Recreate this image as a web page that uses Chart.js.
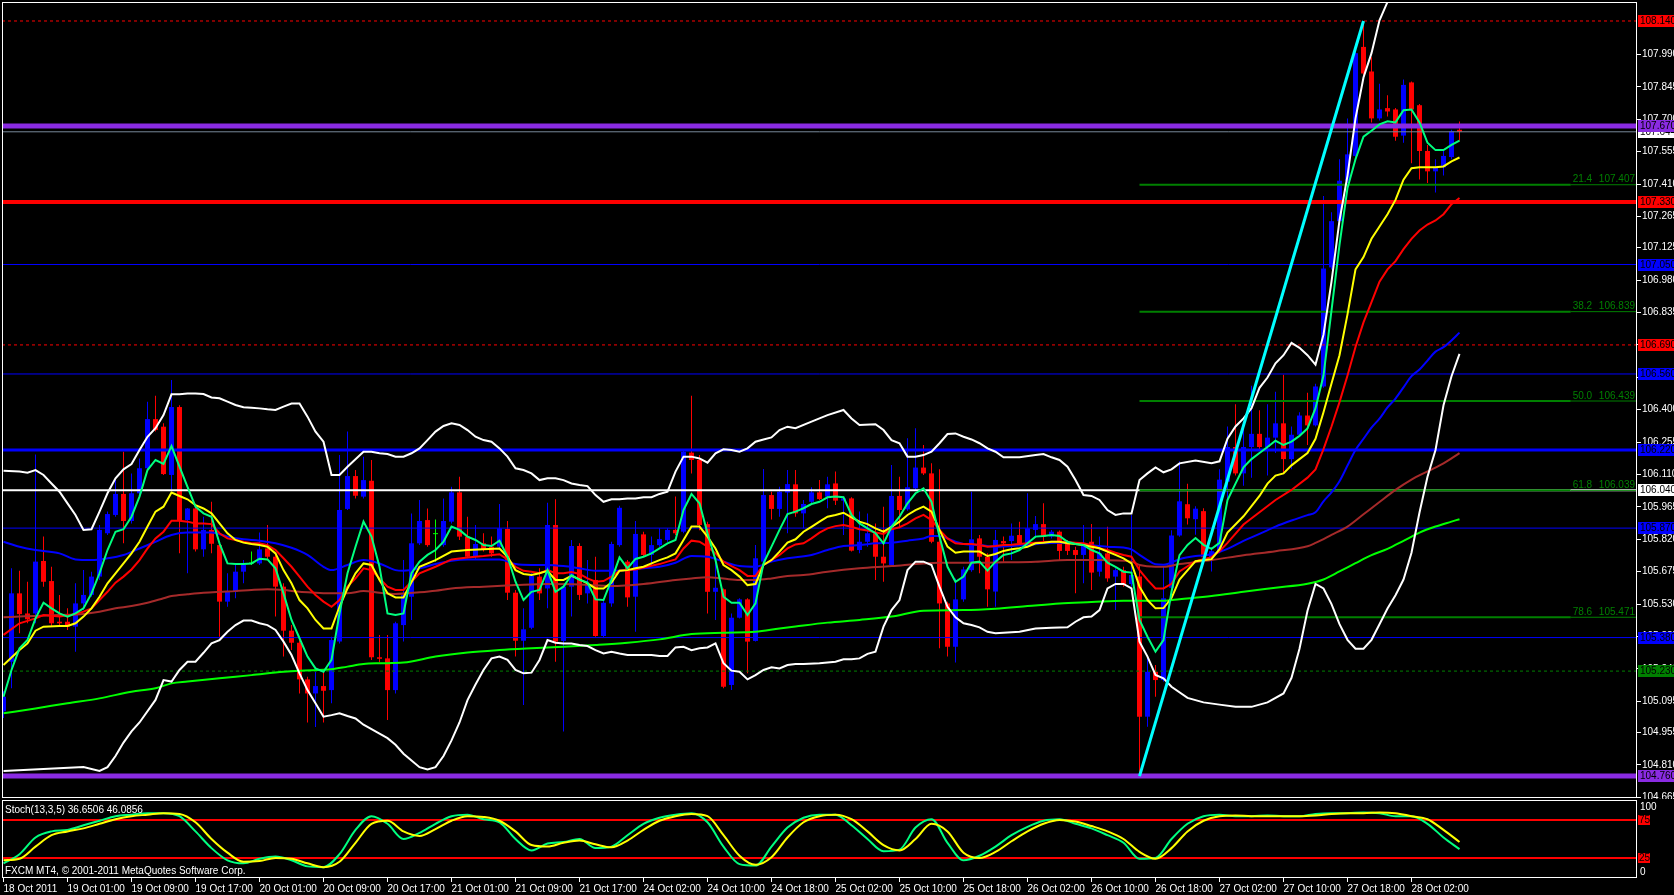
<!DOCTYPE html>
<html><head><meta charset="utf-8">
<script src="https://cdn.jsdelivr.net/npm/chart.js@4.4.0/dist/chart.umd.min.js"></script>
<style>
html,body{margin:0;padding:0;background:#000;overflow:hidden;}
#wrap{position:relative;width:1674px;height:895px;background:#000;}
#c1{position:absolute;left:0;top:0;}
#c2{position:absolute;left:0;top:799px;}
</style></head><body>
<div id="wrap">
<canvas id="c1" width="1674" height="799"></canvas>
<canvas id="c2" width="1674" height="96"></canvas>
</div>
<script>
// ---------------- DATA ----------------
const xTickLabels = ['18 Oct 2011','19 Oct 01:00','19 Oct 09:00','19 Oct 17:00','20 Oct 01:00','20 Oct 09:00','20 Oct 17:00','21 Oct 01:00','21 Oct 09:00','21 Oct 17:00','24 Oct 02:00','24 Oct 10:00','24 Oct 18:00','25 Oct 02:00','25 Oct 10:00','25 Oct 18:00','26 Oct 02:00','26 Oct 10:00','26 Oct 18:00','27 Oct 02:00','27 Oct 10:00','27 Oct 18:00','28 Oct 02:00'];
const xTickBars = [0,8,16,24,32,40,48,56,64,72,80,88,96,104,112,120,128,136,144,152,160,168,176];
const priceTicks = [107.990,107.845,107.700,107.555,107.410,107.265,107.125,106.980,106.835,106.690,106.545,106.400,106.255,106.110,105.965,105.820,105.675,105.530,105.385,105.240,105.095,104.955,104.810,104.665];

const open = [
105.05,105.272,105.578,105.488,105.488,105.723,105.633,105.451,105.451,105.429,
105.533,105.571,105.653,105.847,105.929,106.023,105.902,106.026,106.138,106.358,
106.324,106.108,106.412,105.906,105.958,105.775,105.862,105.794,105.541,105.585,
105.675,105.712,105.712,105.779,105.742,105.608,105.411,105.357,105.193,105.130,
105.163,105.145,105.362,105.956,106.103,106.011,106.082,105.292,105.287,105.145,
105.436,105.563,105.802,105.906,105.843,105.794,105.899,106.030,105.832,105.742,
105.802,105.787,105.787,105.866,105.581,105.366,105.424,105.653,105.600,105.884,
105.365,105.608,105.790,105.578,105.638,105.387,105.533,105.794,105.720,105.563,
105.842,105.750,105.794,105.817,105.862,105.854,106.208,106.175,105.888,105.585,
105.596,105.168,105.469,105.551,105.365,105.720,106.018,105.956,106.029,106.066,
105.936,105.988,106.030,106.011,106.070,105.993,106.003,105.772,105.809,105.847,
105.742,105.705,106.014,105.954,106.048,106.141,106.115,105.809,105.533,105.339,
105.551,105.682,105.824,105.742,105.586,105.812,105.812,105.839,105.802,105.862,
105.888,105.832,105.854,105.802,105.772,105.750,105.809,105.675,105.757,105.653,
105.682,105.620,105.653,105.026,105.227,105.190,105.603,105.837,105.977,105.910,
105.946,105.740,105.767,106.078,106.233,106.115,106.233,106.292,106.233,106.275,
106.339,106.179,106.288,106.374,106.330,106.504,107.037,107.244,107.425,107.536,
108.024,107.914,107.704,107.750,107.744,107.627,107.865,107.763,107.558,107.467,
107.485,107.531,107.653];
const high = [
105.14,105.690,105.679,105.630,106.200,105.832,105.697,105.571,105.511,105.623,
105.682,105.675,105.884,105.944,106.085,106.212,106.115,106.182,106.436,106.463,
106.339,106.533,106.420,105.960,105.973,105.921,105.988,105.800,105.668,105.705,
105.727,105.765,105.850,105.884,105.757,105.623,105.436,105.369,105.205,105.227,
105.227,105.384,106.197,106.302,106.130,106.190,106.175,105.392,105.392,105.451,
105.727,105.936,105.996,105.958,105.909,106.003,106.055,106.100,105.921,105.884,
105.847,105.832,105.978,105.902,105.593,105.511,105.668,105.690,105.984,105.999,
105.615,105.817,105.802,105.727,105.742,105.548,105.809,105.970,105.727,105.902,
105.854,105.832,105.869,105.869,106.011,106.220,106.463,106.197,105.899,105.742,
105.600,105.488,105.556,105.556,105.794,106.135,106.033,106.055,106.130,106.130,
105.996,106.053,106.085,106.100,106.123,106.011,106.008,105.944,105.936,105.891,
105.966,106.153,106.100,106.272,106.317,106.242,106.160,106.133,105.541,105.645,
105.697,106.033,105.839,105.757,105.862,105.832,105.891,105.899,106.026,105.924,
105.981,105.862,105.859,105.817,105.787,105.884,105.888,105.832,105.876,105.690,
105.697,105.929,105.705,105.295,105.257,105.697,105.860,106.169,106.069,105.968,
105.959,105.786,106.133,106.325,106.425,106.325,106.507,106.398,106.425,106.480,
106.557,106.325,106.389,106.476,106.516,107.357,107.284,107.521,107.704,108.015,
108.140,107.978,107.859,107.808,107.750,107.878,107.869,107.768,107.585,107.521,
107.558,107.653,107.690];
const low = [
105.02,105.153,105.399,105.444,105.444,105.608,105.429,105.436,105.414,105.317,
105.503,105.563,105.638,105.839,105.921,105.802,105.891,106.018,106.130,106.302,
106.108,106.041,105.757,105.668,105.765,105.742,105.757,105.384,105.518,105.556,
105.623,105.705,105.705,105.727,105.474,105.295,105.324,105.130,105.000,104.980,
105.000,105.086,105.354,105.951,106.003,106.003,105.280,105.270,105.011,105.130,
105.362,105.459,105.794,105.787,105.720,105.787,105.891,105.817,105.735,105.727,
105.765,105.742,105.779,105.548,105.295,105.078,105.417,105.548,105.511,105.272,
104.960,105.474,105.548,105.533,105.384,105.380,105.518,105.787,105.518,105.406,
105.742,105.705,105.787,105.809,105.839,105.847,106.115,105.860,105.488,105.459,
105.153,105.145,105.466,105.220,105.362,105.712,105.909,105.921,105.847,105.921,
105.869,105.973,105.996,105.959,105.973,105.839,105.765,105.757,105.787,105.638,
105.630,105.697,105.869,105.948,106.041,106.108,105.802,105.332,105.295,105.268,
105.541,105.675,105.668,105.518,105.518,105.720,105.727,105.794,105.794,105.832,
105.809,105.824,105.727,105.750,105.578,105.623,105.593,105.653,105.630,105.503,
105.608,105.608,104.760,104.981,105.115,105.183,105.594,105.831,105.886,105.840,
105.731,105.676,105.758,105.987,106.105,106.060,106.096,106.224,106.105,106.206,
106.115,106.133,106.279,106.242,106.325,106.498,107.028,107.238,107.415,107.531,
107.896,107.686,107.695,107.713,107.604,107.595,107.503,107.430,107.415,107.372,
107.448,107.521,107.604];
const close = [
105.115,105.578,105.485,105.462,105.720,105.630,105.444,105.444,105.429,105.533,
105.571,105.653,105.862,105.933,106.023,105.902,106.026,106.138,106.358,106.309,
106.112,106.412,105.902,105.958,105.775,105.862,105.800,105.541,105.585,105.675,
105.705,105.715,105.775,105.742,105.608,105.411,105.357,105.193,105.130,105.163,
105.142,105.369,105.951,106.103,106.015,106.085,105.292,105.285,105.145,105.444,
105.571,105.802,105.902,105.794,105.845,105.902,106.030,105.832,105.742,105.799,
105.775,105.757,105.869,105.581,105.366,105.417,105.656,105.578,105.884,105.362,
105.608,105.790,105.571,105.615,105.387,105.536,105.799,105.961,105.560,105.844,
105.750,105.794,105.821,105.862,105.847,106.212,106.175,105.884,105.585,105.603,
105.160,105.469,105.551,105.362,105.735,106.018,105.956,106.033,106.067,105.936,
105.978,106.030,106.000,106.066,105.993,106.003,105.769,105.809,105.847,105.742,
105.712,106.014,105.951,106.053,106.141,106.115,105.809,105.533,105.339,105.551,
105.685,105.820,105.742,105.596,105.817,105.802,105.836,105.802,105.869,105.888,
105.832,105.854,105.768,105.768,105.750,105.790,105.671,105.757,105.645,105.682,
105.615,105.660,105.026,105.227,105.190,105.556,105.837,105.990,105.914,105.957,
105.740,105.767,106.087,106.233,106.115,106.233,106.292,106.233,106.275,106.339,
106.179,106.288,106.374,106.330,106.504,107.032,107.244,107.425,107.543,107.996,
107.905,107.704,107.744,107.735,107.622,107.854,107.744,107.558,107.467,107.485,
107.536,107.646,107.644];

// fast MA (spring green), read per bar
const maFast = [
105.115,105.235,105.332,105.369,105.466,105.536,105.511,105.488,105.474,105.488,
105.511,105.578,105.668,105.772,105.854,105.865,105.921,106.011,106.130,106.175,
106.157,106.237,106.145,106.055,105.966,105.936,105.921,105.802,105.712,105.709,
105.709,105.712,105.733,105.730,105.690,105.578,105.459,105.377,105.295,105.242,
105.227,105.280,105.488,105.668,105.787,105.899,105.832,105.697,105.488,105.481,
105.488,105.668,105.720,105.750,105.772,105.809,105.877,105.862,105.832,105.817,
105.794,105.790,105.814,105.742,105.630,105.548,105.585,105.593,105.682,105.585,
105.608,105.660,105.638,105.626,105.551,105.548,105.638,105.739,105.690,105.732,
105.742,105.757,105.779,105.802,105.817,105.951,106.023,105.981,105.847,105.727,
105.563,105.536,105.536,105.481,105.533,105.712,105.787,105.862,105.933,105.944,
105.959,105.978,105.988,106.008,106.011,106.008,105.929,105.891,105.869,105.847,
105.802,105.876,105.921,105.981,106.026,106.048,105.988,105.832,105.697,105.630,
105.653,105.715,105.720,105.680,105.720,105.750,105.757,105.772,105.802,105.832,
105.835,105.839,105.835,105.809,105.799,105.794,105.772,105.757,105.715,105.697,
105.675,105.671,105.459,105.384,105.317,105.369,105.585,105.749,105.795,105.826,
105.795,105.777,105.804,105.996,106.069,106.142,106.179,106.206,106.233,106.261,
106.242,106.257,106.283,106.316,106.407,106.553,106.845,107.138,107.393,107.521,
107.622,107.649,107.677,107.691,107.686,107.741,107.744,107.686,107.595,107.562,
107.562,107.585,107.604];
// yellow MA
const maYellow = [
105.257,null,105.324,105.354,105.411,105.429,null,105.432,105.432,105.444,
105.474,105.511,105.563,105.623,105.668,105.712,105.757,105.809,105.877,105.944,
105.966,106.029,106.014,105.999,105.973,105.958,105.936,105.891,105.847,105.817,
105.805,105.799,105.794,105.787,105.757,105.682,105.623,105.548,105.511,105.459,
105.421,105.421,105.518,105.600,105.668,105.712,105.705,105.638,105.578,105.560,
105.560,null,105.697,null,105.727,null,105.765,null,105.772,null,
105.775,null,105.779,105.742,105.682,105.665,105.660,105.668,105.679,105.638,
105.638,105.656,105.641,105.623,105.600,105.600,105.626,105.679,105.682,105.690,
105.697,105.712,105.727,105.739,105.757,105.817,105.877,105.877,105.832,105.779,
105.705,105.682,105.653,105.615,105.620,105.705,105.727,105.765,105.805,105.820,
105.854,105.876,105.899,105.921,105.929,105.939,105.918,105.899,105.888,105.869,
105.854,105.876,105.899,105.929,105.951,105.966,105.944,105.862,105.787,105.760,
105.765,105.765,105.765,105.745,105.754,105.768,105.775,105.780,105.787,105.802,
105.805,105.809,105.809,105.802,105.799,105.794,105.787,105.780,105.765,105.750,
105.735,105.712,105.608,105.548,105.511,105.512,105.557,105.640,null,105.722,
null,105.731,105.776,105.850,null,105.923,null,106.014,106.069,106.105,
106.115,106.151,106.179,106.206,106.270,106.389,106.517,106.644,106.827,107.028,
107.083,107.165,107.220,107.275,107.339,107.430,107.481,107.485,107.485,107.485,
107.489,107.512,107.529];
// red MA
const maRed = [
105.392,null,105.444,null,105.466,105.481,null,105.474,null,105.485,
105.496,105.511,105.548,105.585,105.626,105.653,105.685,105.727,105.779,105.824,
105.854,105.903,105.903,105.899,105.891,105.891,105.888,105.847,105.824,105.817,
105.809,105.802,105.802,105.794,105.772,105.735,105.697,105.653,105.608,105.571,
105.541,105.518,105.548,105.608,105.645,105.690,105.682,105.645,105.608,105.593,
105.593,null,105.668,null,105.697,null,105.730,null,105.739,null,
105.745,null,105.753,105.730,105.697,105.679,105.675,105.668,105.682,105.668,
105.668,105.674,105.665,105.645,105.630,105.633,105.653,105.679,105.682,105.685,
105.694,105.702,105.709,105.720,105.730,105.779,105.814,105.809,105.787,105.757,
105.720,105.700,105.682,105.656,105.656,105.705,105.727,105.750,105.779,105.797,
105.802,105.824,105.850,105.869,105.879,105.884,105.876,105.865,105.859,105.850,
105.844,105.865,105.874,105.891,105.914,105.929,105.906,105.862,105.824,105.802,
105.799,105.799,105.794,105.787,105.790,105.794,105.796,105.799,105.802,105.805,
105.808,105.809,105.809,105.808,105.805,105.802,105.794,105.779,105.772,105.760,
105.750,105.742,105.682,105.638,105.600,105.600,105.621,105.676,null,105.722,
null,105.740,105.767,105.804,null,105.886,null,105.941,null,105.996,
null,106.041,null,106.096,106.133,106.224,106.325,106.434,106.553,106.681,
106.791,106.882,106.973,107.028,107.065,107.119,107.165,107.202,107.229,107.247,
107.275,107.320,107.348];
// slow lines read at sample bars: [bar, price]
const maBlue = [[0,105.809],[2,105.787],[4,105.772],[7,105.757],[9,105.730],[11,105.727],[13,105.735],[15,105.750],[17,105.779],[19,105.809],[21,105.839],[23,105.850],[26,105.850],[28,105.832],[30,105.820],[32,105.814],[34,105.802],[36,105.782],[38,105.750],[40,105.697],[41,105.682],[43,105.705],[45,105.727],[47,105.712],[49,105.682],[50,105.679],[52,105.690],[54,105.709],[56,105.724],[58,105.730],[62,105.730],[64,105.709],[66,105.705],[68,105.705],[70,105.700],[72,105.690],[74,105.679],[76,105.679],[78,105.682],[80,105.690],[82,105.697],[84,105.715],[86,105.745],[88,105.742],[90,105.720],[92,105.700],[94,105.697],[96,105.720],[98,105.735],[101,105.750],[103,105.772],[105,105.790],[107,105.794],[109,105.802],[111,105.805],[113,105.814],[115,105.824],[116,105.835],[117,105.835],[118,105.824],[119,105.809],[120,105.799],[122,105.794],[124,105.787],[126,105.790],[128,105.794],[130,105.802],[132,105.805],[134,105.802],[136,105.794],[138,105.787],[140,105.783],[141,105.775],[142,105.750],[143,105.727],[144,105.708],[145,105.706],[147,105.731],[149,105.745],[151,105.753],[153,105.777],[155,105.813],[157,105.844],[159,105.877],[161,105.904],[163,105.928],[164,105.941],[165,105.990],[166,106.030],[167,106.080],[168,106.150],[169,106.220],[170,106.270],[171,106.320],[172,106.360],[173,106.410],[174,106.450],[175,106.500],[176,106.550],[177,106.580],[178,106.620],[179,106.660],[180,106.680],[181,106.710],[182,106.745]];
const maBrown = [[0,105.471],[2,105.474],[4,105.477],[7,105.481],[10,105.486],[12,105.496],[14,105.511],[16,105.521],[18,105.536],[20,105.556],[21,105.566],[23,105.574],[25,105.581],[27,105.585],[29,105.588],[31,105.593],[33,105.596],[35,105.593],[37,105.585],[39,105.581],[41,105.578],[43,105.578],[45,105.588],[47,105.581],[49,105.575],[52,105.583],[54,105.590],[56,105.600],[60,105.608],[64,105.615],[68,105.620],[72,105.618],[76,105.611],[80,105.620],[84,105.638],[86,105.645],[88,105.650],[90,105.644],[92,105.638],[94,105.638],[96,105.645],[98,105.656],[100,105.660],[103,105.675],[107,105.690],[111,105.700],[115,105.712],[117,105.715],[121,105.715],[125,105.717],[129,105.720],[133,105.727],[137,105.727],[141,105.720],[142,105.705],[144,105.697],[145,105.697],[147,105.709],[151,105.727],[155,105.749],[159,105.767],[163,105.789],[164,105.804],[166,105.840],[168,105.877],[170,105.932],[172,105.987],[174,106.041],[176,106.087],[178,106.124],[180,106.160],[182,106.206]];
const maLime = [[0,105.041],[4,105.063],[8,105.086],[12,105.108],[16,105.138],[19,105.153],[21,105.175],[23,105.183],[27,105.198],[31,105.212],[35,105.227],[37,105.232],[41,105.238],[43,105.250],[45,105.262],[47,105.265],[50,105.268],[54,105.295],[58,105.313],[62,105.324],[66,105.332],[70,105.339],[74,105.347],[78,105.357],[82,105.372],[86,105.396],[90,105.402],[94,105.406],[97,105.421],[99,105.430],[103,105.447],[107,105.459],[111,105.474],[115,105.500],[120,105.503],[124,105.509],[128,105.521],[132,105.533],[136,105.539],[140,105.545],[142,105.545],[145,105.545],[147,105.552],[151,105.566],[155,105.585],[159,105.603],[163,105.621],[165,105.640],[167,105.676],[169,105.713],[171,105.749],[173,105.777],[175,105.813],[177,105.850],[179,105.877],[181,105.899],[182,105.910]];
const bandUpper = [[0,106.127],[2,106.123],[3,106.118],[4,106.130],[5,106.108],[6,106.070],[7,106.033],[8,105.981],[9,105.929],[10,105.862],[11,105.865],[12,105.944],[13,106.026],[14,106.093],[15,106.133],[16,106.157],[17,106.220],[18,106.279],[19,106.317],[20,106.376],[21,106.469],[22,106.469],[23,106.473],[24,106.473],[25,106.470],[26,106.455],[27,106.451],[28,106.436],[29,106.421],[30,106.411],[31,106.409],[32,106.406],[33,106.402],[34,106.399],[35,106.414],[36,106.428],[37,106.428],[38,106.369],[39,106.302],[40,106.257],[41,106.108],[42,106.108],[43,106.145],[44,106.178],[45,106.212],[46,106.212],[47,106.205],[48,106.202],[49,106.190],[50,106.190],[51,106.205],[52,106.227],[53,106.264],[54,106.302],[55,106.327],[56,106.339],[57,106.332],[58,106.309],[59,106.279],[60,106.264],[61,106.257],[62,106.227],[63,106.190],[64,106.138],[65,106.130],[66,106.115],[67,106.085],[68,106.093],[69,106.093],[70,106.085],[71,106.070],[72,106.063],[73,106.058],[74,106.018],[75,105.988],[76,105.999],[77,105.999],[78,106.003],[79,106.003],[80,106.008],[81,106.008],[82,106.023],[83,106.033],[84,106.123],[85,106.190],[86,106.190],[87,106.182],[88,106.163],[89,106.205],[90,106.223],[91,106.220],[92,106.212],[93,106.227],[94,106.257],[95,106.267],[96,106.276],[97,106.309],[98,106.324],[99,106.317],[101,106.347],[103,106.376],[105,106.399],[106,106.361],[107,106.332],[109,106.335],[110,106.309],[111,106.264],[112,106.250],[113,106.190],[114,106.190],[115,106.197],[116,106.212],[117,106.250],[118,106.291],[119,106.294],[120,106.279],[121,106.267],[122,106.250],[123,106.227],[124,106.212],[125,106.187],[127,106.187],[129,106.197],[130,106.202],[131,106.187],[132,106.175],[133,106.145],[134,106.085],[135,106.018],[136,106.014],[137,105.996],[138,105.951],[139,105.929],[140,105.936],[141,105.936],[142,106.085],[143,106.115],[144,106.142],[145,106.120],[146,106.133],[147,106.160],[149,106.173],[151,106.160],[152,106.169],[153,106.270],[154,106.325],[155,106.361],[156,106.407],[157,106.498],[158,106.544],[159,106.608],[160,106.644],[161,106.699],[162,106.677],[163,106.644],[164,106.602],[165,106.736],[166,106.973],[167,107.247],[168,107.448],[169,107.704],[170,107.887],[171,107.996],[172,108.143],[173,108.225],[174,108.330]];
const bandLower = [[0,104.783],[5,104.792],[10,104.801],[12,104.783],[13,104.800],[14,104.850],[15,104.910],[16,104.960],[17,105.000],[19,105.101],[20,105.190],[21,105.183],[22,105.235],[23,105.272],[24,105.272],[25,105.312],[26,105.354],[27,105.369],[28,105.406],[29,105.436],[30,105.456],[31,105.456],[32,105.444],[33,105.436],[34,105.414],[35,105.362],[36,105.302],[37,105.220],[38,105.145],[39,105.086],[40,105.026],[41,105.033],[42,105.041],[43,105.029],[44,105.018],[45,104.990],[46,104.970],[47,104.950],[48,104.930],[49,104.900],[50,104.860],[51,104.830],[52,104.800],[53,104.790],[54,104.800],[55,104.850],[56,104.920],[57,105.000],[58,105.100],[59,105.170],[60,105.235],[61,105.287],[62,105.295],[63,105.280],[64,105.235],[65,105.220],[66,105.223],[67,105.280],[68,105.369],[69,105.357],[70,105.354],[71,105.354],[72,105.347],[73,105.342],[74,105.324],[75,105.309],[76,105.317],[77,105.309],[78,105.302],[79,105.302],[80,105.302],[81,105.302],[82,105.298],[83,105.298],[84,105.336],[85,105.339],[86,105.324],[87,105.332],[88,105.336],[89,105.354],[90,105.265],[91,105.232],[92,105.227],[93,105.193],[94,105.212],[95,105.235],[96,105.247],[97,105.242],[98,105.257],[99,105.262],[100,105.262],[102,105.265],[104,105.272],[105,105.283],[106,105.283],[107,105.287],[108,105.307],[109,105.317],[110,105.429],[111,105.503],[112,105.548],[113,105.682],[114,105.720],[115,105.720],[116,105.705],[117,105.608],[118,105.518],[119,105.471],[120,105.444],[121,105.436],[122,105.426],[123,105.406],[124,105.399],[125,105.402],[127,105.406],[129,105.421],[131,105.424],[133,105.426],[134,105.451],[135,105.471],[136,105.474],[137,105.503],[138,105.600],[139,105.620],[140,105.620],[141,105.600],[142,105.362],[143,105.295],[144,105.213],[145,105.198],[146,105.160],[148,105.110],[150,105.090],[152,105.080],[154,105.070],[156,105.070],[158,105.090],[160,105.130],[161,105.200],[162,105.330],[163,105.500],[164,105.620],[165,105.600],[166,105.530],[167,105.440],[168,105.370],[169,105.330],[170,105.330],[171,105.370],[172,105.440],[173,105.510],[174,105.570],[175,105.640],[176,105.760],[177,105.940],[178,106.100],[179,106.220],[180,106.420],[181,106.550],[182,106.650]];

// horizontal price levels
const levelPrices = [108.140,107.670,107.644,107.330,107.050,106.690,106.560,106.220,106.040,105.870,105.380,105.230,104.760];
// fibonacci levels
const fibPercents = [21.4,38.2,50.0,61.8,78.6];
const fibPrices = [107.407,106.839,106.439,106.039,105.471];
const fibStartBar = 142;
// trend line anchors [bar, price]
const trendStart = [142,104.760];
const trendEnd = [170,108.140];

// stochastic (13,3,5), read every 2 bars
const stochMain = [18,30,52,60,62,68,74,80,82,84, 84,80,60,38,22,18,24,27,22,14, 13,30,62,80,70,50,58,70,80,82, 76,72,50,35,44,46,50,38,40,55, 70,78,82,84,72,40,17,15,40,65, 78,82,82,68,50,34,36,65,76,45, 22,28,40,55,66,74,76,70,64,55, 45,24,25,50,70,80,82,80,80,81, 80,80,83,84,84,85,84,80,80,70, 52,36.65];
const stochSignal = [22,24,40,55,60,64,70,76,80,82, 84,83,72,50,32,20,21,25,24,18, 13,20,45,70,74,60,54,63,74,80, 79,74,60,42,40,45,48,43,39,48, 62,74,80,83,80,55,28,16,26,52, 72,80,82,76,60,42,35,50,70,60, 32,25,33,47,60,70,75,73,67,60, 50,33,24,38,60,74,80,81,80,80, 80,80,81,83,84,84,85,84,80,76, 62,46.09];
const stochLevels = [75,25];
const stochTitle = 'Stoch(13,3,5) 36.6506 46.0856';
const copyrightText = 'FXCM MT4, \u00A9 2001-2011 MetaQuotes Software Corp.';

// ---------------- STYLES / LAYOUT ----------------
const FONT = '10px "Liberation Sans", Arial, sans-serif';
Chart.defaults.font.family = '"Liberation Sans", Arial, sans-serif';
Chart.defaults.font.size = 10;
Chart.defaults.color = '#ffffff';

const X_MIN = -0.1875, X_MAX = 204.1875;
const P_MIN = 104.662, P_MAX = 108.225;
const FIB_TEXT_BAR = 195.9;
const levelStyle = [
  {c:'#ff0000', w:1, d:[3,3], box:'#ff0000'},
  {c:'#8a2be2', w:5, d:[],    box:'#8a2be2'},
  {c:'#778899', w:1, d:[],    box:'#ffffff'},
  {c:'#ff0000', w:4, d:[],    box:'#ff0000'},
  {c:'#0000ff', w:1, d:[],    box:'#0000ff'},
  {c:'#ff0000', w:1, d:[3,3], box:'#ff0000'},
  {c:'#0000ff', w:1, d:[],    box:'#0000ff'},
  {c:'#0000ff', w:3, d:[],    box:'#0000ff'},
  {c:'#ffffff', w:2, d:[],    box:'#ffffff'},
  {c:'#0000ff', w:1, d:[],    box:'#0000ff'},
  {c:'#0000ff', w:1, d:[],    box:'#0000ff'},
  {c:'#008000', w:1, d:[3,3], box:'#008000'},
  {c:'#8a2be2', w:5, d:[],    box:'#8a2be2'}
];

function lineDs(data, color, width, order, extra) {
  return Object.assign({type:'line', data, borderColor:color, backgroundColor:color, borderWidth:width,
    pointRadius:0, pointHoverRadius:0, fill:false, tension:0, spanGaps:true, order}, extra || {});
}
const perBar = arr => arr.map((y, x) => ({x, y}));
const pairs = arr => arr.map(p => ({x:p[0], y:p[1]}));
const smooth = {cubicInterpolationMode:'monotone'};

const candleColor = open.map((o, i) => Math.abs(close[i] - o) < 0.0035 ? '#00ff00' : (close[i] > o ? '#0000ff' : '#ff0000'));

const datasets = [];
datasets.push({type:'bar', data: low.map((l, i) => ({x:i, y:[l, high[i]]})), backgroundColor:candleColor,
  barThickness:1, grouped:false, inflateAmount:0, borderWidth:0, order:100});
datasets.push({type:'bar', data: open.map((o, i) => ({x:i, y:[Math.min(o, close[i]), Math.max(o, close[i])]})),
  backgroundColor:candleColor, barThickness:5, minBarLength:1, grouped:false, inflateAmount:0, borderWidth:0, order:95});
levelPrices.forEach((p, k) => {
  const s = levelStyle[k];
  datasets.push(lineDs([{x:X_MIN, y:p}, {x:X_MAX, y:p}], s.c, s.w, 60, {borderDash:s.d}));
});
fibPrices.forEach(p => {
  datasets.push(lineDs([{x:fibStartBar, y:p}, {x:FIB_TEXT_BAR, y:p}], '#008000', 2, 55));
  datasets.push(lineDs([{x:FIB_TEXT_BAR, y:p}, {x:X_MAX, y:p}], '#008000', 1, 55));
});
datasets.push(lineDs(pairs(maLime), '#00ff00', 2, 40, smooth));
datasets.push(lineDs(pairs(maBrown), '#a52a2a', 2, 40, smooth));
datasets.push(lineDs(pairs(maBlue), '#0000ff', 2, 38, smooth));
datasets.push(lineDs(pairs(bandUpper), '#ffffff', 2, 36));
datasets.push(lineDs(pairs(bandLower), '#ffffff', 2, 36));
datasets.push(lineDs(perBar(maRed), '#ff0000', 2, 34));
datasets.push(lineDs(perBar(maYellow), '#ffff00', 2, 32));
datasets.push(lineDs(perBar(maFast), '#00ff7f', 2, 30));
datasets.push(lineDs([{x:trendStart[0], y:trendStart[1]}, {x:trendEnd[0], y:trendEnd[1]}], '#00ffff', 3, 10));

const bgPlugin = {id:'bg', beforeDraw(c){ const x = c.ctx; x.save(); x.fillStyle = '#000'; x.fillRect(0, 0, c.width, c.height); x.restore(); }};
const framePlugin = {id:'frame', afterDatasetsDraw(c){
  const {ctx, chartArea:a} = c; ctx.save(); ctx.strokeStyle = '#fff'; ctx.lineWidth = 1;
  ctx.strokeRect(a.left + 0.5, a.top + 0.5, a.right - a.left - 1, a.bottom - a.top - 1); ctx.restore(); }};

const mainLabels = {id:'mainLabels', afterDraw(c){
  const {ctx, scales:{x, y}} = c;
  ctx.save(); ctx.font = FONT; ctx.textBaseline = 'middle';
  // fib texts
  ctx.fillStyle = '#008000';
  fibPrices.forEach((p, k) => {
    const py = y.getPixelForValue(p);
    ctx.textAlign = 'left';  ctx.fillText(fibPercents[k].toFixed(1), x.getPixelForValue(FIB_TEXT_BAR) + 2, py - 5);
    ctx.textAlign = 'right'; ctx.fillText(p.toFixed(3), c.chartArea.right - 2, py - 5);
  });
  // price boxes on the axis (bid label first)
  ctx.textAlign = 'left';
  const order = [2].concat(levelPrices.map((_, k) => k).filter(k => k !== 2));
  order.forEach(k => {
    const py = Math.round(y.getPixelForValue(levelPrices[k]));
    ctx.fillStyle = levelStyle[k].box; ctx.fillRect(c.chartArea.right + 1, py - 6, 40, 12);
    ctx.fillStyle = '#000'; ctx.fillText(levelPrices[k].toFixed(3), c.chartArea.right + 3, py + 0.5);
  });
  ctx.restore();
}};

new Chart(document.getElementById('c1'), {
  type:'bar',
  data:{datasets},
  options:{
    responsive:false, animation:false, events:[],
    layout:{padding:{left:2, top:2, right:0, bottom:1}, autoPadding:false},
    plugins:{legend:{display:false}, tooltip:{enabled:false}},
    scales:{
      x:{type:'linear', min:X_MIN, max:X_MAX, display:false, offset:false},
      y:{type:'linear', position:'right', min:P_MIN, max:P_MAX,
        afterBuildTicks: s => { s.ticks = priceTicks.map(v => ({value:v})); },
        afterFit: s => { s.width = 37; s.paddingTop = 0; s.paddingBottom = 0; },
        ticks:{color:'#ffffff', padding:1, autoSkip:false, font:{size:10}, callback: v => Number(v).toFixed(3)},
        grid:{drawOnChartArea:false, drawTicks:true, tickLength:4, color:'#ffffff'},
        border:{display:false}}
    }
  },
  plugins:[bgPlugin, framePlugin, mainLabels]
});

// ---------------- STOCHASTIC PANEL ----------------
const stochDs = [];
stochLevels.forEach(v => stochDs.push(lineDs([{x:X_MIN, y:v}, {x:X_MAX, y:v}], '#ff0000', 2, 50)));
stochDs.push(lineDs(stochMain.map((v, k) => ({x:2 * k, y:v})), '#00ff7f', 2, 20, smooth));
stochDs.push(lineDs(stochSignal.map((v, k) => ({x:2 * k, y:v})), '#ffff00', 2, 10, smooth));

const stochLabels = {id:'stochLabels', afterDraw(c){
  const {ctx, scales:{y}, chartArea:a} = c;
  ctx.save(); ctx.font = FONT; ctx.textBaseline = 'middle'; ctx.textAlign = 'left';
  ctx.fillStyle = '#ffffff';
  ctx.fillText(stochTitle, 5, a.top + 10);
  ctx.fillText(copyrightText, 5, a.bottom - 7);
  ctx.fillText('100', a.right + 3, y.getPixelForValue(100) + 6);
  ctx.fillText('0', a.right + 3, y.getPixelForValue(0) - 5);
  stochLevels.forEach(v => {
    const py = Math.round(y.getPixelForValue(v));
    ctx.fillStyle = '#ff0000'; ctx.fillRect(a.right + 1, py - 5, 12, 10);
    ctx.fillStyle = '#000'; ctx.fillText(String(v), a.right + 2, py + 0.5);
  });
  ctx.restore();
}};

new Chart(document.getElementById('c2'), {
  type:'line',
  data:{datasets:stochDs},
  options:{
    responsive:false, animation:false, events:[],
    layout:{padding:{left:2, top:1, right:0, bottom:0}, autoPadding:false},
    plugins:{legend:{display:false}, tooltip:{enabled:false}},
    scales:{
      x:{type:'linear', min:X_MIN, max:X_MAX, offset:false,
        afterBuildTicks: s => { s.ticks = xTickBars.map(v => ({value:v})); },
        afterFit: s => { s.height = 17; s.paddingLeft = 0; s.paddingRight = 0; },
        ticks:{color:'#ffffff', autoSkip:false, maxRotation:0, minRotation:0, align:'start', padding:1,
          font:{size:10}, callback: (v, i) => xTickLabels[i]},
        grid:{drawOnChartArea:false, drawTicks:true, tickLength:4, color:'#ffffff'},
        border:{display:false}},
      y:{type:'linear', position:'right', min:-1.3, max:101.3,
        afterFit: s => { s.width = 37; s.paddingTop = 0; s.paddingBottom = 0; },
        ticks:{display:false}, grid:{display:false}, border:{display:false}}
    }
  },
  plugins:[bgPlugin, framePlugin, stochLabels]
});
</script>
</body></html>
